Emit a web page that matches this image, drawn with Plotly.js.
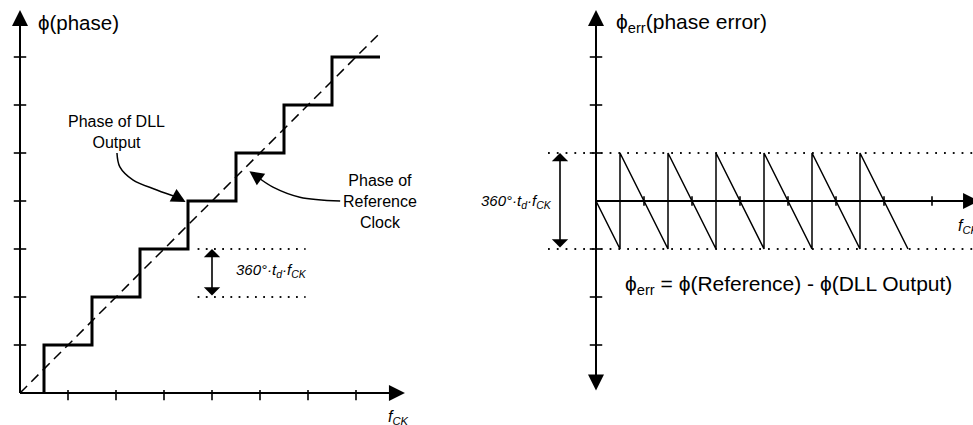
<!DOCTYPE html>
<html><head><meta charset="utf-8">
<script src="https://cdn.plot.ly/plotly-3.0.1.min.js"></script>
<style>html,body{margin:0;padding:0;background:#fff;} #chart{width:973px;height:425px;}</style>
</head><body><div id="chart"></div>
<script>
// ---- Left panel: phase vs f_CK (units = one tick) ----
const phaseTicksX = [1, 2, 3, 4, 5, 6, 7];
const phaseTicksY = [1, 2, 3, 4, 5, 6, 7];
const dllStepX = [0.5, 0.5, 1.5, 2.5, 3.5, 4.5, 5.5, 6.5, 7.5];
const dllStepY = [0, 1, 2, 3, 4, 5, 6, 7, 7];
const refClockX = [0, 7.5];
const refClockY = [0, 7.5];
const stepLevels = [2, 3];
const stepSpanX = [3.7, 5.95];
const dllCurveX = [2.02, 2.08, 2.35, 2.85, 3.33];
const dllCurveY = [5.0, 4.71, 4.44, 4.23, 4.06];
const refCurveX = [6.67, 5.83, 5.27, 4.95];
const refCurveY = [4.0, 4.08, 4.29, 4.50];
// ---- Right panel: phase error vs f_CK ----
const errTicksX = [1, 2, 3, 4, 5, 6, 7];
const errTicksY = [-3, -2, -1, 1, 2, 3];
const errX = [0, 0.5, 0.5, 1.5, 1.5, 2.5, 2.5, 3.5, 3.5, 4.5, 4.5, 5.5, 5.5, 6.5];
const errY = [0, -1, 1, -1, 1, -1, 1, -1, 1, -1, 1, -1, 1, -1];
const errLevels = [-1, 1];
const errSpanX = [-1, 8.3];

const FONT = 'Liberation Sans, Arial, Helvetica, sans-serif';
const BLACK = '#000';

function segs(vals, fixedLo, fixedHi, vertical) {
  const xs = [], ys = [];
  vals.forEach(v => {
    if (vertical) { xs.push(v, v, null); ys.push(fixedLo, fixedHi, null); }
    else { xs.push(fixedLo, fixedHi, null); ys.push(v, v, null); }
  });
  return {x: xs, y: ys};
}
function line(x, y, w, extra, axes) {
  return {type: 'scatter', mode: 'lines', x: x, y: y, xaxis: axes[0], yaxis: axes[1],
    line: Object.assign({color: BLACK, width: w}, extra || {}), hoverinfo: 'skip', showlegend: false, cliponaxis: false};
}
const L = ['x', 'y'], R = ['x2', 'y2'];
const traces = [];
// left axes lines
traces.push(line([0, 7.85], [0, 0], 2, null, L));
traces.push(line([0, 0], [0, 7.8], 2, null, L));
let t = segs(phaseTicksX, -0.15, 0.06, true); traces.push(line(t.x, t.y, 1.6, null, L));
t = segs(phaseTicksY, -0.13, 0.13, false); traces.push(line(t.x, t.y, 1.6, null, L));
// dotted step bounds
t = segs(stepLevels, stepSpanX[0], stepSpanX[1], false);
traces.push(line(t.x, t.y, 1.8, {dash: '1.8px,6.4px', color: '#111'}, L));
// reference clock (dashed)
traces.push(line(refClockX, refClockY, 1.5, {dash: '10px,6px'}, L));
// DLL staircase
traces.push(line(dllStepX, dllStepY, 3, {shape: 'hv'}, L));
// curved pointer lines
traces.push(line(dllCurveX, dllCurveY, 1.5, {shape: 'spline'}, L));
traces.push(line(refCurveX, refCurveY, 1.5, {shape: 'spline'}, L));

// right axes lines
traces.push(line([0, 7.75], [0, 0], 2, null, R));
traces.push(line([0, 0], [-3.8, 3.8], 2, null, R));
t = segs(errTicksX, -0.1, 0.1, true); traces.push(line(t.x, t.y, 1.6, null, R));
t = segs(errTicksY, -0.13, 0.13, false); traces.push(line(t.x, t.y, 1.6, null, R));
t = segs(errLevels, errSpanX[0], errSpanX[1], false);
traces.push(line(t.x, t.y, 1.8, {dash: '1.8px,7px', color: '#111'}, R));
traces.push(line(errX, errY, 1.5, null, R));

function arrow(x, y, ax, ay, axes, opts) {
  return Object.assign({x: x, y: y, ax: ax, ay: ay, xref: axes[0], yref: axes[1], axref: axes[0], ayref: axes[1],
    text: '', showarrow: true, arrowhead: 2, arrowsize: 1.6, arrowwidth: 2, arrowcolor: BLACK, standoff: 0, startstandoff: 0}, opts || {});
}
function label(x, y, text, axes, opts) {
  return Object.assign({x: x, y: y, xref: axes[0], yref: axes[1], text: text, showarrow: false,
    font: {family: FONT, size: 16, color: BLACK}}, opts || {});
}
const annotations = [
  // axis heads
  arrow(0, 7.98, 0, 0, L),
  arrow(8.02, 0, 0, 0, L),
  arrow(0, 3.98, 0, -3.98, R, {arrowside: 'end+start', startarrowhead: 2, startarrowsize: 1.6}),
  arrow(7.98, 0, 0, 0, R),
  // double arrows
  arrow(4.0, stepLevels[1], 4.0, stepLevels[0], L, {arrowside: 'end+start', arrowhead: 1, startarrowhead: 1, arrowwidth: 1.6, arrowsize: 1.7, startarrowsize: 1.7}),
  arrow(-0.75, errLevels[1], -0.75, errLevels[0], R, {arrowside: 'end+start', arrowhead: 1, startarrowhead: 1, arrowwidth: 1.6, arrowsize: 1.7, startarrowsize: 1.7}),
  // curve heads
  arrow(3.45, 3.98, dllCurveX[dllCurveX.length - 1] - 0.1, dllCurveY[dllCurveY.length - 1] + 0.04, L, {arrowwidth: 1.5, arrowsize: 1.9}),
  arrow(4.78, 4.62, refCurveX[refCurveX.length - 1] + 0.08, refCurveY[refCurveY.length - 1] - 0.06, L, {arrowwidth: 1.5, arrowsize: 1.9}),
  // texts
  label(0.33, 7.71, '\u03d5(phase)', L, {xanchor: 'left', font: {family: FONT, size: 20.5, color: BLACK}}),
  label(2.02, 5.43, 'Phase of DLL<br>Output', L),
  label(7.5, 4.0, 'Phase of<br>Reference<br>Clock', L),
  label(4.45, 2.56, '360\u00b0\u00b7t<sub>d</sub>\u00b7f<sub>CK</sub>', L, {xanchor: 'left', font: {family: FONT, size: 15, color: BLACK, style: 'italic'}}),
  label(7.88, -0.5, 'f<sub>CK</sub>', L, {font: {family: FONT, size: 16, color: BLACK, style: 'italic'}}),
  label(0.38, 3.71, '\u03d5<sub>err</sub>(phase error)', R, {xanchor: 'left', font: {family: FONT, size: 21, color: BLACK}}),
  label(-0.88, 0, '360\u00b0\u00b7t<sub>d</sub>\u00b7f<sub>CK</sub>', R, {xanchor: 'right', font: {family: FONT, size: 15, color: BLACK, style: 'italic'}}),
  label(0.56, -1.75, '\u03d5<sub>err</sub> = \u03d5(Reference) - \u03d5(DLL Output)', R, {xanchor: 'left', font: {family: FONT, size: 21, color: BLACK}}),
  label(7.5, -0.54, 'f<sub>CK</sub>', R, {xanchor: 'left', font: {family: FONT, size: 16, color: BLACK, style: 'italic'}})
];
const hidden = {showgrid: false, zeroline: false, showline: false, ticks: '', showticklabels: false, fixedrange: true};
const layout = {
  width: 973, height: 425, autosize: false,
  margin: {l: 0, r: 0, t: 0, b: 0, pad: 0},
  paper_bgcolor: '#fff', plot_bgcolor: 'rgba(0,0,0,0)',
  showlegend: false,
  xaxis: Object.assign({domain: [0, 420 / 973], range: [-20 / 48, 400 / 48]}, hidden),
  yaxis: Object.assign({domain: [0, 1], range: [-32 / 48, 393 / 48]}, hidden),
  xaxis2: Object.assign({domain: [470 / 973, 1], range: [-126 / 48, 377 / 48], anchor: 'y2'}, hidden),
  yaxis2: Object.assign({domain: [0, 1], range: [-224 / 48, 201 / 48], anchor: 'x2'}, hidden),
  annotations: annotations
};
Plotly.newPlot('chart', traces, layout, {staticPlot: true, displayModeBar: false});
</script></body></html>
